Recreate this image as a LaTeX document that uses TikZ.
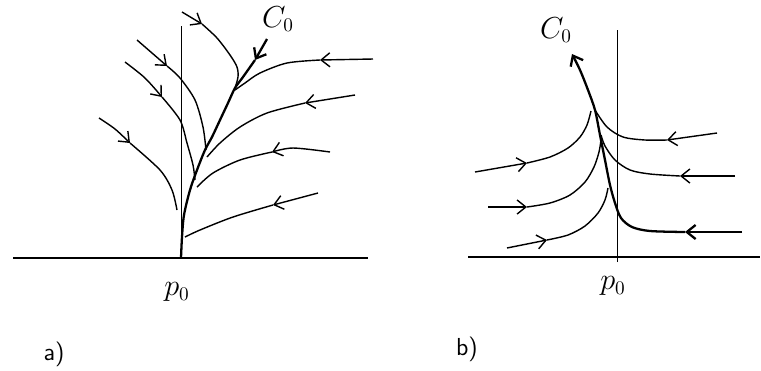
\documentclass[tikz,border=0pt]{standalone}
\usepackage{amsmath}
\usetikzlibrary{arrows.meta}

\begin{document}
\begin{tikzpicture}[
    x=0.02cm, y=-0.02cm,
    axis/.style={line width=0.6pt},
    traj/.style={line width=0.8pt},
    sep/.style={line width=1.3pt},
    fwd/.style={-{Straight Barb[length=5pt,width=8pt]}},
    lbl/.style={font=\fontsize{16}{19}\selectfont},
    tag/.style={font=\sffamily\fontsize{14}{16}\selectfont}
]
    \useasboundingbox (0,0) rectangle (761,370);

    % panel a
    \coordinate (pa) at (181,258);
    \draw[axis] (13,258) -- (368,258);
    \draw[axis, line width=0.5pt] (pa) -- (181,26);

    \draw[sep, fwd] (267,39) -- (255,60);
    \draw[sep] plot[smooth] coordinates {(255,60) (243,77) (235,88) (228,103) (220,120) (212,137) (205,150) (197,170) (190,190) (184,215) (182,237) (pa)};

    \draw[traj, fwd] plot[smooth] coordinates {(99,118) (115,129) (130,143)};
    \draw[traj] plot[smooth] coordinates {(130,143) (160,170) (172,190) (177,210)};
    \draw[traj, fwd] plot[smooth] coordinates {(125,62) (145,78) (162,97)};
    \draw[traj] plot[smooth] coordinates {(162,97) (180,120) (187,143) (193,165) (195,180)};
    \draw[traj, fwd] (137,40) -- (167,66);
    \draw[traj] plot[smooth] coordinates {(167,66) (180,78) (195,100) (203,127) (206,150)};
    \draw[traj, fwd] (182,12) -- (202,24);
    \draw[traj] plot[smooth] coordinates {(202,24) (217,38) (230,55) (237,67) (238,77) (235,88)};
    \draw[traj, fwd] (373,59) -- (320,60);
    \draw[traj] plot[smooth] coordinates {(320,60) (287,63) (260,73) (245,83) (235,90)};
    \draw[traj, fwd] (355,95) -- (305,103);
    \draw[traj] plot[smooth] coordinates {(305,103) (267,113) (240,127) (220,143) (207,157)};
    \draw[traj, fwd] plot[smooth] coordinates {(330,152) (293,148) (272,152)};
    \draw[traj] plot[smooth] coordinates {(272,152) (240,160) (213,173) (197,187)};
    \draw[traj, fwd] (318,193) -- (273,205);
    \draw[traj] plot[smooth] coordinates {(273,205) (233,217) (200,230) (185,237)};

    \node[lbl] (c0a) at (278,19) {$C_0$};
    \node[lbl] (p0a) at (177,292) {$p_0$};
    \node[tag] (taga) at (54,354) {a)};

    % panel b
    \coordinate (pb) at (617,257);
    \draw[axis] (468,257) -- (760,257);
    \draw[axis, line width=0.5pt] (617,262) -- (617,30);

    \draw[sep, fwd] (742,232) -- (685,232);
    \draw[sep, fwd] plot[smooth] coordinates {(685,232) (650,231) (632,227) (621,218) (615,203) (610,185) (605,160) (600,135) (595,110) (588,90) (580,70) (572,54)};
    \draw[traj, fwd] (475,172) -- (527,163);
    \draw[traj] plot[smooth] coordinates {(527,163) (550,157) (568,148) (580,137) (587,125) (591,111)};
    \draw[traj, fwd] (488,207) -- (527,207);
    \draw[traj] plot[smooth] coordinates {(527,207) (550,203) (570,195) (585,182) (594,167) (599,152) (601,140)};
    \draw[traj, fwd] (507,248) -- (547,240);
    \draw[traj] plot[smooth] coordinates {(547,240) (568,235) (585,226) (598,213) (605,200) (608,188)};
    \draw[traj, fwd] (717,133) -- (667,140);
    \draw[traj] plot[smooth] coordinates {(667,140) (645,140) (623,137) (607,127) (595,110)};
    \draw[traj, fwd] (735,176) -- (680,176);
    \draw[traj] plot[smooth] coordinates {(680,176) (650,174) (630,170) (615,160) (605,146) (601,135)};

    \node[lbl] (c0b) at (556,30) {$C_0$};
    \node[lbl] (p0b) at (613,286) {$p_0$};
    \node[tag] (tagb) at (467,349) {b)};

\end{tikzpicture}
\end{document}
